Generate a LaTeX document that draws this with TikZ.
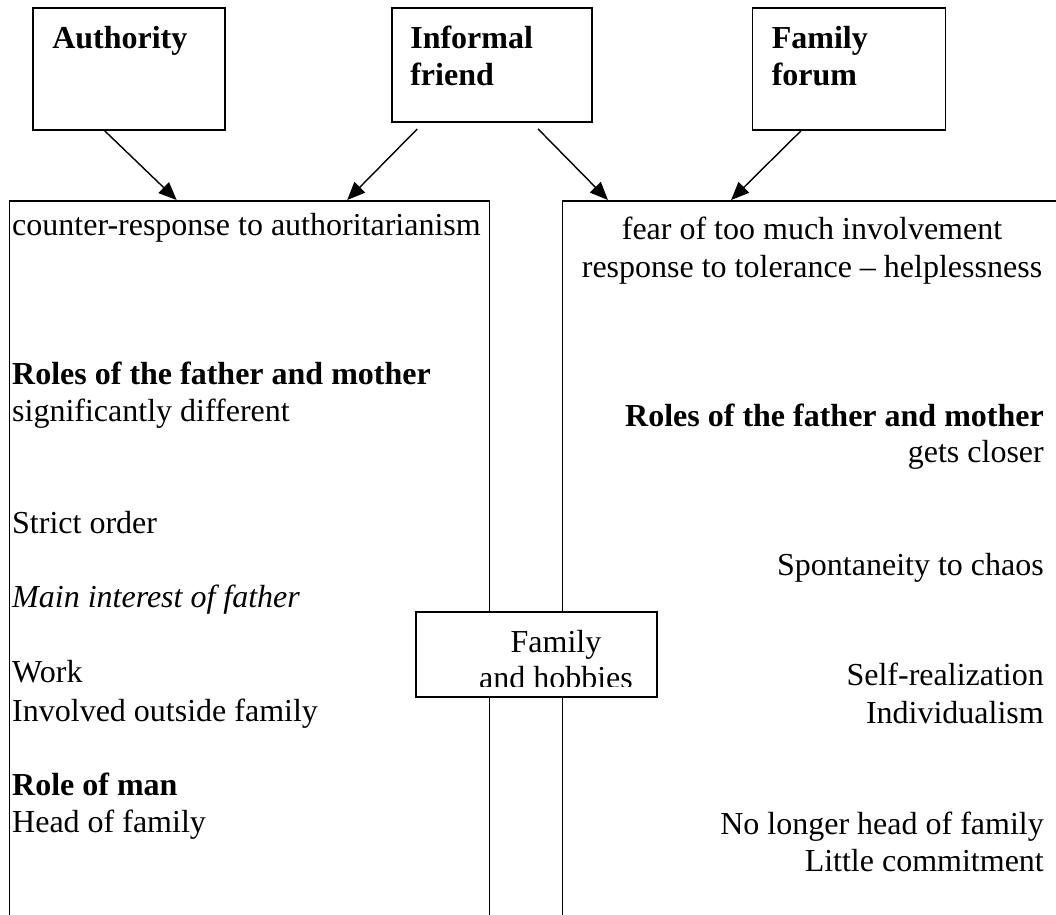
\documentclass[tikz,border=0pt]{standalone}
\usepackage{fontspec}
\setmainfont{Liberation Serif}
\usetikzlibrary{arrows.meta,calc}
\newcommand{\bigtxt}{\fontsize{32}{37.5}\selectfont}
\tikzstyle{topbox}=[draw,line width=1.8pt,inner sep=0pt]
\tikzstyle{bigbox}=[draw,line width=1.8pt,anchor=north west,inner sep=0pt,minimum height=800pt]
\tikzstyle{boxtxt}=[anchor=base west,inner sep=0pt,font=\bigtxt\bfseries]
\tikzstyle{ltxt}=[anchor=base west,inner sep=0pt]
\tikzstyle{rtxt}=[anchor=base east,inner sep=0pt]
\tikzstyle{ctxt}=[anchor=base,inner sep=0pt]
\tikzstyle{arr}=[line width=1.4pt,-{Triangle[length=18pt,width=15pt]}]

\begin{document}
\begin{tikzpicture}[x=1pt,y=-1pt,font=\bigtxt]
    \useasboundingbox (0,0) rectangle (1056,914);
    \clip (0,0) rectangle (1056,914);
    % the three sources
    \node[topbox,minimum width=192pt,minimum height=122pt] (auth) at (129,69) {};
    \node[topbox,minimum width=200pt,minimum height=114pt] (friend) at (492,65) {};
    \node[topbox,minimum width=193pt,minimum height=122pt] (forum) at (849,69) {};
    \node[boxtxt] (a1) at ([shift={(20,41)}]auth.north west) {Authority};
    \node[boxtxt] (f1) at ([shift={(19,41)}]friend.north west) {Informal};
    \node[boxtxt] (f2) at ([shift={(19,78)}]friend.north west) {friend};
    \node[boxtxt] (m1) at ([shift={(20,41)}]forum.north west) {Family};
    \node[boxtxt] (m2) at ([shift={(20,78)}]forum.north west) {forum};

    % the two families
    \node[bigbox,minimum width=480pt] (oldfam) at (8.5,200) {};
    \node[bigbox,minimum width=520pt] (newfam) at (561.5,200) {};

    \foreach \from/\a/\s/\to/\b in {auth/.375/0/oldfam/.349,friend/.13/6/oldfam/.703,friend/.728/6/newfam/.089,forum/.253/0/newfam/.325}
    \draw[arr] ($(\from.south west)!\a!(\from.south east)+(0,\s)$) -- ($(\to.north west)!\b!(\to.north east)$);

    \foreach \y/\txt [count=\i] in {235/counter-response to authoritarianism,
        384/\textbf{Roles of the father and mother}, 421/significantly different,
        533/Strict order, 607/\textit{Main interest of father},
        682/Work, 721/Involved outside family,
        795/\textbf{Role of man}, 832/Head of family}
    \node[ltxt] (l\i) at (12,\y) {\txt};

    \node[ctxt] (c1) at (812,239) {fear of too much involvement};
    \node[ctxt] (c2) at (812,277) {response to tolerance -- helplessness};
    \foreach \y/\txt [count=\i] in {426/\textbf{Roles of the father and mother}, 462/gets closer,
        575/Spontaneity to chaos, 685/Self-realization, 723/Individualism,
        834/No longer head of family, 871/Little commitment}
    \node[rtxt] (r\i) at (1044,\y) {\txt};

    % shared box in the middle
    \node[topbox,fill=white,minimum width=241pt,minimum height=85pt] (hobbies) at (536.5,654.5) {};
    \begin{scope}
        \clip (hobbies.north west) rectangle ([yshift=11pt]hobbies.south east);
        \node[ctxt] (h1) at (556,652) {Family};
        \node[ctxt] (h2) at (556,688) {and hobbies};
    \end{scope}
\end{tikzpicture}
\end{document}
